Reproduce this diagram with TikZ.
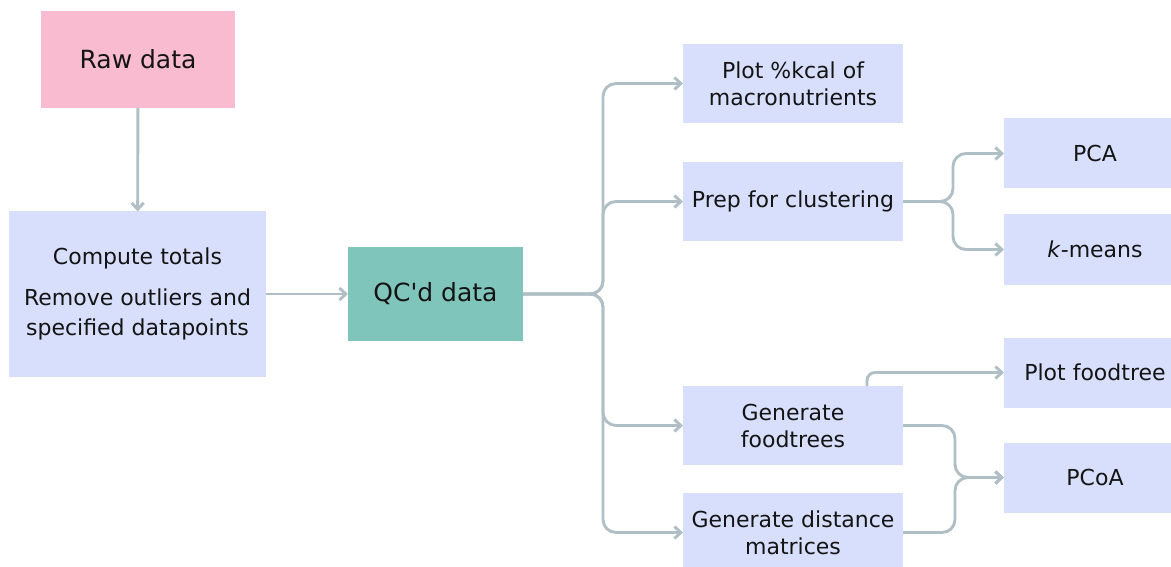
\documentclass[tikz,border=0pt]{standalone}
\usepackage{fontspec}
\setmainfont{DejaVu Sans}
\usepackage{tikz}
\usetikzlibrary{positioning}
\usetikzlibrary{arrows.meta}
\definecolor{rawpink}{HTML}{F8BBD0}
\definecolor{stepblue}{HTML}{D8DFFD}
\definecolor{qcteal}{HTML}{80C5BB}
\definecolor{flowgray}{HTML}{B0BEC5}
\definecolor{inkblack}{HTML}{141414}

\begin{document}
\begin{tikzpicture}[x=1pt,y=-1pt,
base box/.style={rectangle,inner sep=0,outer sep=0,align=center,text=inkblack,
                 font=\fontsize{22}{27}\selectfont},
big box/.style={base box,font=\fontsize{25}{30}\selectfont},
mid box/.style={base box,fill=stepblue,minimum width=220pt,minimum height=79pt},
end box/.style={base box,fill=stepblue,minimum width=182pt,minimum height=70pt},
flow/.style={draw=flowgray,line width=2.9pt,rounded corners=13pt,
             -{Straight Barb[length=6.5pt,width=12pt]}}]
\useasboundingbox (0,0) rectangle (1171,567);
\clip (0,0) rectangle (1171,567);
\node[big box,fill=rawpink,minimum width=194pt,minimum height=97pt] (raw) at (138,59.5) {Raw data};
\node[base box,fill=stepblue,minimum width=257pt,minimum height=165pt,
      font=\fontsize{22}{30}\selectfont] (compute) at (137.5,294)
      {Compute totals\\[11.5pt]Remove outliers and\\specified datapoints};
\node[big box,fill=qcteal,minimum width=175pt,minimum height=94pt] (qc) at (435.5,294) {QC\textquotesingle d data};
%==================
\node[mid box] (plot) at (793,83.5) {Plot \%kcal of\\macronutrients};
\node[mid box,below=39pt of plot] (prep) {Prep for clustering};
\node[mid box] (gentree) at (793,425.5) {Generate\\foodtrees};
\node[mid box,below=28pt of gentree] (gendist) {Generate distance\\matrices};
%==================
\node[end box] (pca) at (1095,153.5) {PCA};
\node[end box,below=26pt of pca] (kmeans) {\textit{k}-means};
\node[end box] (plotft) at (1095,372.5) {Plot foodtree};
\node[end box,below=35pt of plotft] (pcoa) {PCoA};
% ===================
\draw[flow] (raw) -- (compute);
\draw[flow] (compute.east) -- (qc.west);
\coordinate (qcfork) at (603,294);
\foreach \t in {plot,prep,gentree,gendist}{
\draw[flow] (qc.east) -- (qcfork) |- (\t.west);
}
% ===================
\coordinate (prepfork) at ([xshift=50pt]prep.east);
\foreach \t in {pca,kmeans}{
\draw[flow] (prep.east) -- (prepfork) |- (\t.west);
}
\coordinate (ftup) at ([xshift=74pt]gentree.north);
\draw[flow,rounded corners=8pt] (ftup) |- (plotft.west);
\coordinate (pcoajoin) at ([xshift=-49pt]pcoa.west);
\foreach \s in {gentree,gendist}{
\draw[flow] (\s.east) -| (pcoajoin) -- (pcoa.west);
}
\end{tikzpicture}
\end{document}
